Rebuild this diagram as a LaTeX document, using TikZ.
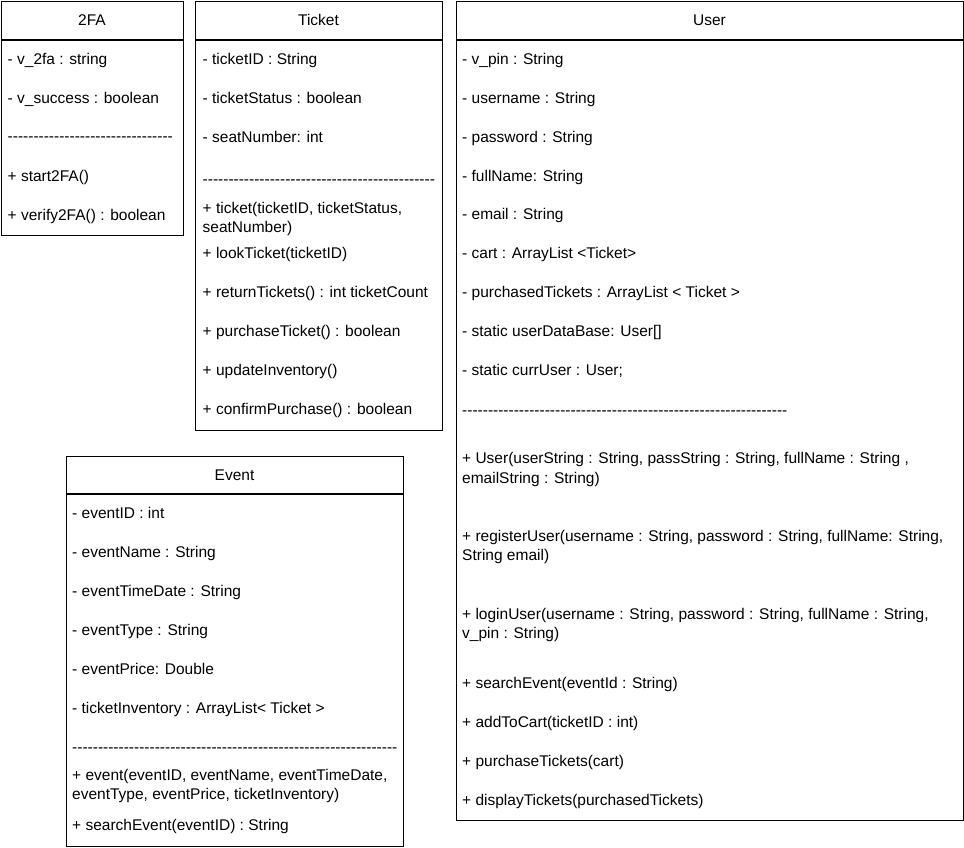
\documentclass[tikz,border=0pt]{standalone}
\usepackage{fontspec}
\setmainfont{Liberation Sans}[Ligatures=TeXOff]
\newcommand\fs{\fontsize{15.5}{19}\selectfont}
\newcount\hycnt
\newcommand\hyph[1]{\hycnt=0 \loop\ifnum\hycnt<#1 -\advance\hycnt by 1 \repeat}
\tikzset{
  classbox/.style={draw, line width=1.2pt, inner sep=0pt, anchor=north west, fill=white},
  sepline/.style={line width=1.2pt},
  txt/.style={anchor=base west, inner sep=0pt, font=\fs},
  ttl/.style={anchor=base, inner sep=0pt, font=\fs}
}
\begin{document}
\begin{tikzpicture}[x=1pt,y=-1pt]
\useasboundingbox[fill=white] (0,0) rectangle (964,847);

% ---- 2FA ----
\node[classbox, minimum width=182pt, minimum height=234pt] (tfa) at (1,1) {};
\coordinate (tfaL) at (1,40); \coordinate (tfaR) at (183,40);
\draw[sepline] (tfaL) -- (tfaR);
\node[ttl] (tfaT) at (92,25.5) {2FA};
\node[txt] (tfa1) at (7.5,64.5) {- v\_2fa : string};
\node[txt] (tfa2) at (7.5,103.5) {- v\_success : boolean};
\node[txt] (tfa3) at (7.5,141.5) {\hyph{32}};
\node[txt] (tfa4) at (7.5,181.5) {+ start2FA()};
\node[txt] (tfa5) at (7.5,220.5) {+ verify2FA() : boolean};

% ---- Ticket ----
\node[classbox, minimum width=247pt, minimum height=429pt] (tk) at (195,1) {};
\coordinate (tkL) at (195,40); \coordinate (tkR) at (442,40);
\draw[sepline] (tkL) -- (tkR);
\node[ttl] (tkT) at (318.5,25.5) {Ticket};
\node[txt] (tk1) at (202.5,64.5) {- ticketID : String};
\node[txt] (tk2) at (202.5,103.5) {- ticketStatus : boolean};
\node[txt] (tk3) at (202.5,142) {- seatNumber: int};
\node[txt] (tk4) at (202.5,184) {\hyph{45}};
\node[txt] (tk5) at (202.5,213.5) {+ ticket(ticketID, ticketStatus,};
\node[txt] (tk5b) at (202.5,232) {seatNumber)};
\node[txt] (tk6) at (202.5,258.5) {+ lookTicket(ticketID)};
\node[txt] (tk7) at (202.5,297.5) {+ returnTickets() : int ticketCount};
\node[txt] (tk8) at (202.5,336.5) {+ purchaseTicket() : boolean};
\node[txt] (tk9) at (202.5,375.5) {+ updateInventory()};
\node[txt] (tk10) at (202.5,414) {+ confirmPurchase() : boolean};

% ---- Event ----
\node[classbox, minimum width=337pt, minimum height=390pt] (ev) at (66,456) {};
\coordinate (evL) at (66,494); \coordinate (evR) at (403,494);
\draw[sepline] (evL) -- (evR);
\node[ttl] (evT) at (234.5,480.5) {Event};
\node[txt] (ev1) at (72,518.5) {- eventID : int};
\node[txt] (ev2) at (72,557.5) {- eventName : String};
\node[txt] (ev3) at (72,596.5) {- eventTimeDate : String};
\node[txt] (ev4) at (72,635.5) {- eventType : String};
\node[txt] (ev5) at (72,674.5) {- eventPrice: Double};
\node[txt] (ev6) at (72,713.5) {- ticketInventory : ArrayList< Ticket >};
\node[txt] (ev7) at (72,752) {\hyph{63}};
\node[txt] (ev8) at (72,780.5) {+ event(eventID, eventName, eventTimeDate,};
\node[txt] (ev8b) at (72,799.5) {eventType, eventPrice, ticketInventory)};
\node[txt] (ev9) at (72,830.5) {+ searchEvent(eventID) : String};

% ---- User ----
\node[classbox, minimum width=507pt, minimum height=819pt] (us) at (456,1) {};
\coordinate (usL) at (456,40); \coordinate (usR) at (963,40);
\draw[sepline] (usL) -- (usR);
\node[ttl] (usT) at (709.5,25.5) {User};
\node[txt] (us1) at (462,64.5) {- v\_pin : String};
\node[txt] (us2) at (462,103.5) {- username : String};
\node[txt] (us3) at (462,142.5) {- password : String};
\node[txt] (us4) at (462,181) {- fullName: String};
\node[txt] (us5) at (462,219.5) {- email : String};
\node[txt] (us6) at (462,258.5) {- cart : ArrayList <Ticket>};
\node[txt] (us7) at (462,297.5) {- purchasedTickets : ArrayList < Ticket >};
\node[txt] (us8) at (462,336.5) {- static userDataBase: User[]};
\node[txt] (us9) at (462,375.5) {- static currUser : User;};
\node[txt] (us10) at (462,415) {\hyph{63}};
\node[txt] (us11) at (462,463.5) {+ User(userString : String, passString : String, fullName : String ,};
\node[txt] (us11b) at (462,483) {emailString : String)};
\node[txt] (us12) at (462,541.5) {+ registerUser(username : String, password : String, fullName: String,};
\node[txt] (us12b) at (462,560.5) {String email)};
\node[txt] (us13) at (462,619.5) {+ loginUser(username : String, password : String, fullName : String,};
\node[txt] (us13b) at (462,638.5) {v\_pin : String)};
\node[txt] (us14) at (462,688.5) {+ searchEvent(eventId : String)};
\node[txt] (us15) at (462,727.5) {+ addToCart(ticketID : int)};
\node[txt] (us16) at (462,766.5) {+ purchaseTickets(cart)};
\node[txt] (us17) at (462,805.5) {+ displayTickets(purchasedTickets)};
\end{tikzpicture}
\end{document}
